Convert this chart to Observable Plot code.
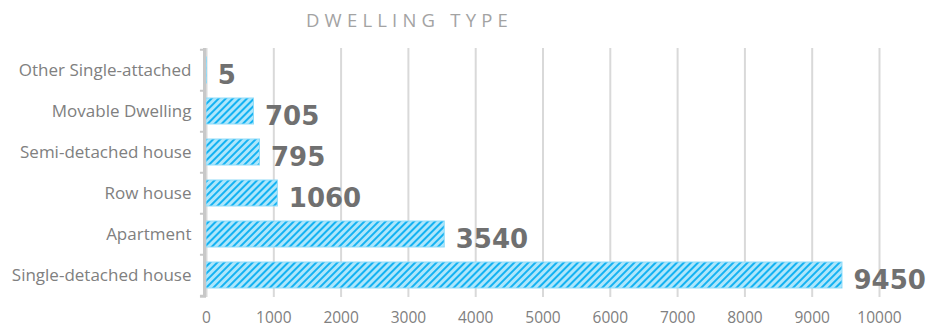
<!DOCTYPE html>
<html>
<head>
<meta charset="utf-8">
<script src="https://cdn.jsdelivr.net/npm/d3@7"></script>
<script src="https://cdn.jsdelivr.net/npm/@observablehq/plot@0.6"></script>
<style>
  html, body { margin: 0; padding: 0; background: #fff; }
  #title {
    height: 40px; line-height: 40px; width: 935px;
    text-align: center; box-sizing: border-box;
    font-family: "Open Sans", sans-serif; font-size: 18.5px; font-weight: 400;
    letter-spacing: 5.2px; color: #a3a3a3;
  }
  #title span { position: relative; left: -58px; }
  #chart svg { display: block; }
</style>
</head>
<body>
<div id="title"><span>DWELLING TYPE</span></div>
<div id="chart"></div>
<script>
// Dwelling types, top to bottom, with their counts
const categories = [
  "Other Single-attached",
  "Movable Dwelling",
  "Semi-detached house",
  "Row house",
  "Apartment",
  "Single-detached house"
];
const counts = [5, 705, 795, 1060, 3540, 9450];
const xTicks = [0, 1000, 2000, 3000, 4000, 5000, 6000, 7000, 8000, 9000, 10000];

const data = categories.map((c, i) => ({type: c, count: counts[i]}));

const width = 935, height = 286;
const marginTop = 8, marginBottom = 29, marginLeft = 206, marginRight = 56;
const step = (height - marginTop - marginBottom) / categories.length;

// striped fill for the bars
const stripes = () => {
  const svg = d3.create("svg:defs");
  const p = svg.append("pattern")
    .attr("id", "stripes")
    .attr("patternUnits", "userSpaceOnUse")
    .attr("width", 5).attr("height", 5)
    .attr("patternTransform", "rotate(45)");
  p.append("rect").attr("width", 5).attr("height", 5).attr("fill", "#aee6fb");
  p.append("rect").attr("x", 0).attr("width", 2).attr("height", 5)
    .attr("fill", "#14b2f2");
  return svg.node();
};

const chart = Plot.plot({
  width, height, marginTop, marginBottom, marginLeft, marginRight,
  style: {fontFamily: "'Open Sans', sans-serif", fontSize: "15px", color: "#808080", overflow: "visible"},
  x: {domain: [0, 10000], ticks: xTicks, label: null},
  y: {domain: categories, paddingInner: 0.36, paddingOuter: 0.18, label: null},
  marks: [
    stripes,
    Plot.gridX(xTicks, {stroke: "#d9d9d9", strokeOpacity: 1, strokeWidth: 2}),
    Plot.barX(data, {x: "count", y: "type", fill: "url(#stripes)", stroke: "#8fdcf9", strokeWidth: 1}),
    // vertical category axis with ticks at band boundaries
    Plot.ruleX([0], {stroke: "#c8c8c8", strokeWidth: 3, dx: -2}),
    Plot.ruleY(categories, {y: d => d, x1: -90, x2: 0, dy: -step / 2, stroke: "#c8c8c8", strokeWidth: 2}),
    Plot.ruleY([categories[categories.length - 1]], {x1: -90, x2: 0, dy: step / 2, stroke: "#c8c8c8", strokeWidth: 3}),
    Plot.text(data, {
      x: "count", y: "type", text: d => String(d.count),
      textAnchor: "start", dx: 11, dy: 5,
      fontFamily: "DejaVu Sans", fontWeight: "bold", fontSize: 26, fill: "#707070"
    }),
    Plot.axisX({ticks: xTicks, tickSize: 0, tickPadding: 14, tickFormat: d => String(d), fontSize: 15.5}),
    Plot.axisY({tickSize: 0, tickPadding: 15, fontSize: 17})
  ]
});
document.getElementById("chart").appendChild(chart);
</script>
</body>
</html>
